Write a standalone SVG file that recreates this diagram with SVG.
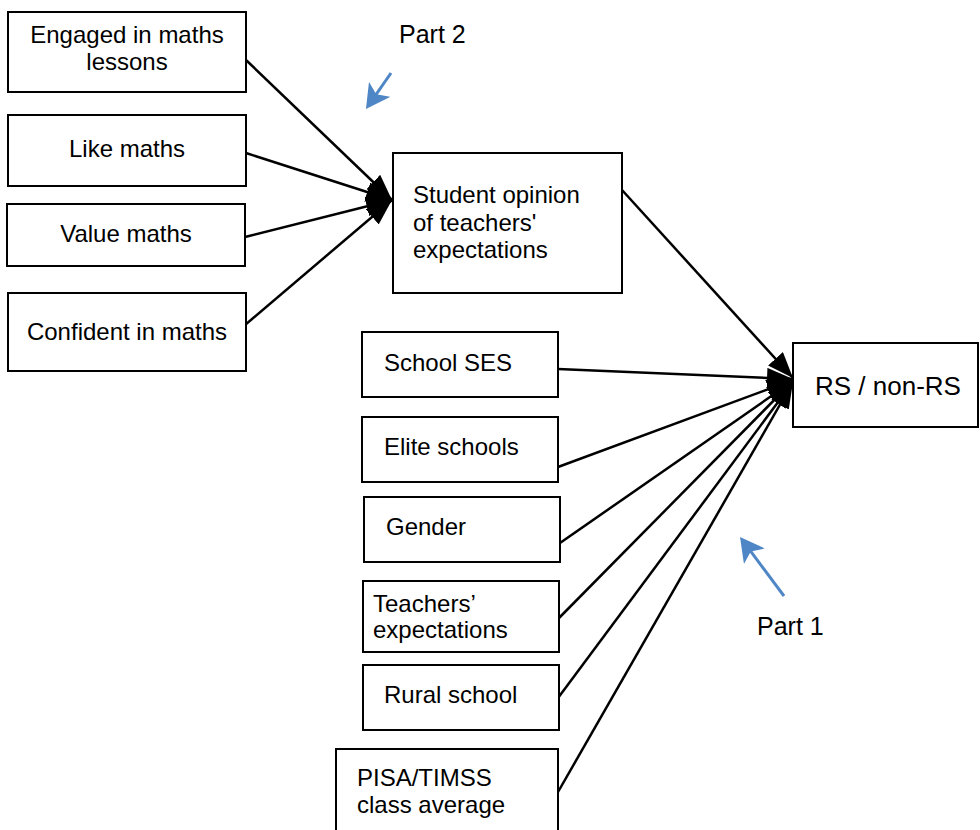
<svg xmlns="http://www.w3.org/2000/svg" width="980" height="830" viewBox="0 0 980 830">
<style>
  .box { fill: #ffffff; stroke: #000000; stroke-width: 2; }
  .t { font-family: "Liberation Sans", Arial, sans-serif; font-size: 24px; fill: #000000; }
  .c { text-anchor: middle; }
  .big { font-size: 26px; }
  .lbl { font-family: "Liberation Sans", Arial, sans-serif; font-size: 25px; fill: #000000; }
  .link { stroke: #000000; stroke-width: 2.5; fill: none; marker-end: url(#ah); }
  .blue { stroke: #4F86C6; stroke-width: 3; fill: none; marker-end: url(#bh); }
</style>
<defs>
  <marker id="ah" viewBox="0 0 26 20" refX="26" refY="10" markerWidth="26" markerHeight="20" markerUnits="userSpaceOnUse" orient="auto">
    <path d="M0,0 L26,10 L0,20 z" fill="#000000"/>
  </marker>
  <marker id="bh" viewBox="0 0 24 26" refX="15" refY="13" markerWidth="24" markerHeight="26" markerUnits="userSpaceOnUse" orient="auto">
    <path d="M0,0 L24,13 L0,26 L6,13 z" fill="#4F86C6"/>
  </marker>
</defs>
<rect width="980" height="830" fill="#ffffff"/>

<g id="connectors">
  <line class="link" x1="246" y1="60" x2="392" y2="200"/>
  <line class="link" x1="246" y1="153" x2="392" y2="200"/>
  <line class="link" x1="245" y1="237" x2="392" y2="200"/>
  <line class="link" x1="245" y1="325" x2="392" y2="200"/>
  <line class="link" x1="622" y1="190" x2="793" y2="378"/>
  <line class="link" x1="558" y1="369" x2="793" y2="379"/>
  <line class="link" x1="558" y1="467" x2="793" y2="380"/>
  <line class="link" x1="560" y1="543" x2="793" y2="381"/>
  <line class="link" x1="558" y1="619" x2="793" y2="381"/>
  <line class="link" x1="558" y1="698" x2="793" y2="382"/>
  <line class="link" x1="558" y1="792" x2="793" y2="382"/>
  <line class="blue" x1="391" y1="73" x2="371.1" y2="101.6"/>
  <line class="blue" x1="784" y1="596" x2="745.4" y2="544.2"/>
</g>

<g id="engaged">
  <rect class="box" x="8" y="12" width="238" height="80"/>
  <text class="t c" x="127" y="43">Engaged in maths</text>
  <text class="t c" x="127" y="70">lessons</text>
</g>
<g id="like">
  <rect class="box" x="8" y="115" width="238" height="71"/>
  <text class="t c" x="127" y="157">Like maths</text>
</g>
<g id="value">
  <rect class="box" x="7" y="204" width="238" height="62"/>
  <text class="t c" x="126" y="242">Value maths</text>
</g>
<g id="confident">
  <rect class="box" x="8" y="293" width="238" height="78"/>
  <text class="t c" x="127" y="340">Confident in maths</text>
</g>
<g id="student-opinion">
  <rect class="box" x="393" y="153" width="229" height="140"/>
  <text class="t" x="413" y="203">Student opinion</text>
  <text class="t" x="413" y="231">of teachers'</text>
  <text class="t" x="413" y="258">expectations</text>
</g>
<g id="rs">
  <rect class="box" x="793" y="343" width="185" height="84"/>
  <text class="t big" x="815" y="395">RS / non-RS</text>
</g>
<g id="school-ses">
  <rect class="box" x="362" y="332" width="196" height="65"/>
  <text class="t" x="384" y="371">School SES</text>
</g>
<g id="elite">
  <rect class="box" x="362" y="417" width="196" height="65"/>
  <text class="t" x="384" y="455">Elite schools</text>
</g>
<g id="gender">
  <rect class="box" x="364" y="497" width="196" height="65"/>
  <text class="t" x="386" y="535">Gender</text>
</g>
<g id="teachers">
  <rect class="box" x="363" y="581" width="196" height="71"/>
  <text class="t" x="373" y="612">Teachers’</text>
  <text class="t" x="373" y="638">expectations</text>
</g>
<g id="rural">
  <rect class="box" x="363" y="665" width="196" height="65"/>
  <text class="t" x="384" y="703">Rural school</text>
</g>
<g id="pisa">
  <rect class="box" x="336" y="749" width="222" height="100"/>
  <text class="t" x="357" y="786">PISA/TIMSS</text>
  <text class="t" x="357" y="813">class average</text>
</g>

<g id="part2">
  <text class="lbl" x="399" y="43">Part 2</text>
</g>
<g id="part1">
  <text class="lbl" x="757" y="635">Part 1</text>
</g>
</svg>
